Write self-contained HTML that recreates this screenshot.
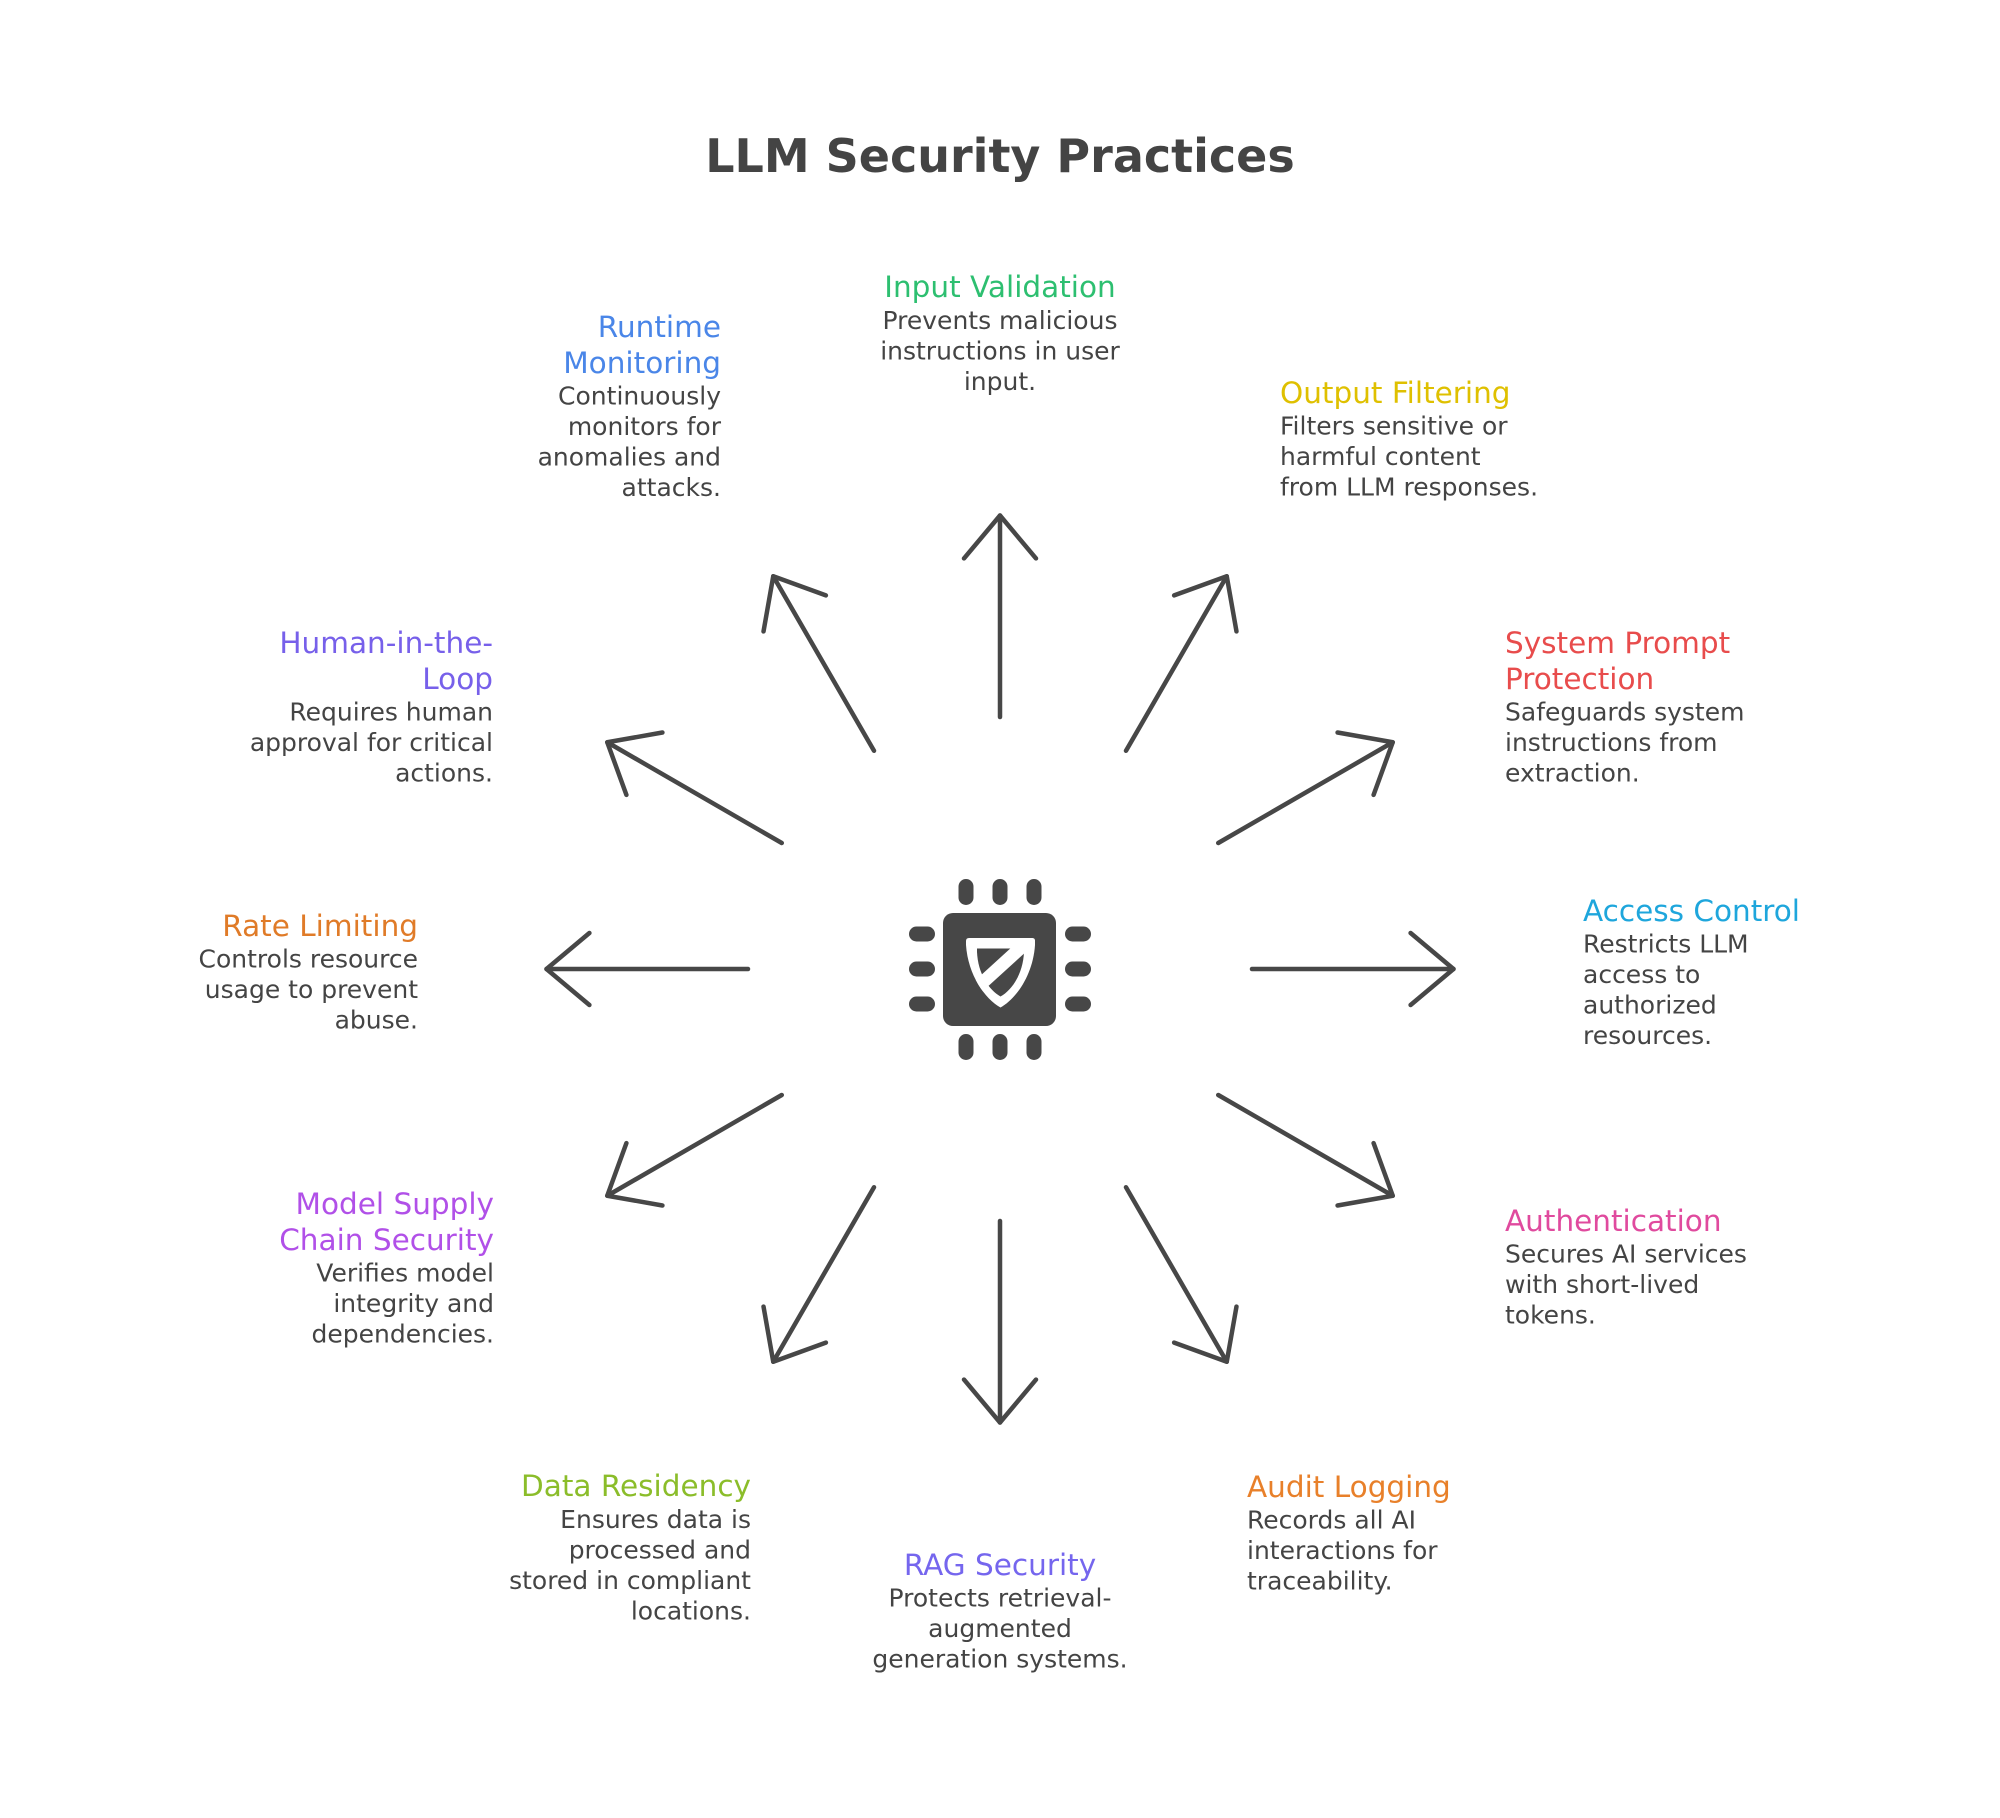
<!DOCTYPE html>
<html>
<head>
<meta charset="utf-8">
<style>
  html, body { margin: 0; padding: 0; background: #ffffff; }
  body { width: 2000px; height: 1818px; overflow: hidden; }
  svg { display: block; }
  .h { font-family: "DejaVu Sans", "Liberation Sans", sans-serif; font-size: 29.5px; }
  .b { font-family: "DejaVu Sans", "Liberation Sans", sans-serif; font-size: 25px; fill: #444444; }
  .t { font-family: "DejaVu Sans", "Liberation Sans", sans-serif; font-size: 46px; font-weight: bold; fill: #444444; }
</style>
</head>
<body>
<svg width="2000" height="1818" viewBox="0 0 2000 1818" xmlns="http://www.w3.org/2000/svg">
  <rect x="0" y="0" width="2000" height="1818" fill="#ffffff"/>

  <!-- Title -->
  <text class="t" x="1000" y="172" text-anchor="middle">LLM Security Practices</text>

  <!-- Arrows -->
  <g stroke="#474747" stroke-width="4.5" stroke-linecap="round" stroke-linejoin="round" fill="none">
    <g transform="rotate(0 1000 969)">
      <line x1="1252" y1="969" x2="1453.5" y2="969"/>
      <polyline points="1410.6,933 1453.5,969 1410.6,1005"/>
    </g>
    <g transform="rotate(30 1000 969)">
      <line x1="1252" y1="969" x2="1453.5" y2="969"/>
      <polyline points="1410.6,933 1453.5,969 1410.6,1005"/>
    </g>
    <g transform="rotate(60 1000 969)">
      <line x1="1252" y1="969" x2="1453.5" y2="969"/>
      <polyline points="1410.6,933 1453.5,969 1410.6,1005"/>
    </g>
    <g transform="rotate(90 1000 969)">
      <line x1="1252" y1="969" x2="1453.5" y2="969"/>
      <polyline points="1410.6,933 1453.5,969 1410.6,1005"/>
    </g>
    <g transform="rotate(120 1000 969)">
      <line x1="1252" y1="969" x2="1453.5" y2="969"/>
      <polyline points="1410.6,933 1453.5,969 1410.6,1005"/>
    </g>
    <g transform="rotate(150 1000 969)">
      <line x1="1252" y1="969" x2="1453.5" y2="969"/>
      <polyline points="1410.6,933 1453.5,969 1410.6,1005"/>
    </g>
    <g transform="rotate(180 1000 969)">
      <line x1="1252" y1="969" x2="1453.5" y2="969"/>
      <polyline points="1410.6,933 1453.5,969 1410.6,1005"/>
    </g>
    <g transform="rotate(210 1000 969)">
      <line x1="1252" y1="969" x2="1453.5" y2="969"/>
      <polyline points="1410.6,933 1453.5,969 1410.6,1005"/>
    </g>
    <g transform="rotate(240 1000 969)">
      <line x1="1252" y1="969" x2="1453.5" y2="969"/>
      <polyline points="1410.6,933 1453.5,969 1410.6,1005"/>
    </g>
    <g transform="rotate(270 1000 969)">
      <line x1="1252" y1="969" x2="1453.5" y2="969"/>
      <polyline points="1410.6,933 1453.5,969 1410.6,1005"/>
    </g>
    <g transform="rotate(300 1000 969)">
      <line x1="1252" y1="969" x2="1453.5" y2="969"/>
      <polyline points="1410.6,933 1453.5,969 1410.6,1005"/>
    </g>
    <g transform="rotate(330 1000 969)">
      <line x1="1252" y1="969" x2="1453.5" y2="969"/>
      <polyline points="1410.6,933 1453.5,969 1410.6,1005"/>
    </g>
  </g>

  <!-- Center chip icon -->
  <g fill="#474747">
    <rect x="943" y="913" width="113" height="113" rx="10"/>
    <rect x="958.5" y="879" width="15" height="26" rx="7.5"/>
    <rect x="992.5" y="879" width="15" height="26" rx="7.5"/>
    <rect x="1026.5" y="879" width="15" height="26" rx="7.5"/>
    <rect x="958.5" y="1034" width="15" height="26" rx="7.5"/>
    <rect x="992.5" y="1034" width="15" height="26" rx="7.5"/>
    <rect x="1026.5" y="1034" width="15" height="26" rx="7.5"/>
    <rect x="909" y="926.5" width="26" height="15" rx="7.5"/>
    <rect x="909" y="961.5" width="26" height="15" rx="7.5"/>
    <rect x="909" y="996.5" width="26" height="15" rx="7.5"/>
    <rect x="1065" y="926.5" width="26" height="15" rx="7.5"/>
    <rect x="1065" y="961.5" width="26" height="15" rx="7.5"/>
    <rect x="1065" y="996.5" width="26" height="15" rx="7.5"/>
  </g>
  <defs>
    <clipPath id="shieldClip">
      <path d="M966,941 Q966,938 969,938 L1032,938 Q1035,938 1035,941 L1035,945 C1033,975 1016,999 1000.5,1007.5 C985,999 968,975 966,945 Z"/>
    </clipPath>
  </defs>
  <path d="M966,941 Q966,938 969,938 L1032,938 Q1035,938 1035,941 L1035,945 C1033,975 1016,999 1000.5,1007.5 C985,999 968,975 966,945 Z" fill="#ffffff"/>
  <path d="M977,948.5 L1024,948.5 L1024,952 C1023,974 1012,990 1000.5,996.5 C989,990 978,974 977,952 Z" fill="#474747"/>
  <line x1="1037" y1="933" x2="970" y2="994" stroke="#ffffff" stroke-width="13" clip-path="url(#shieldClip)"/>

  <!-- Input Validation -->
  <text class="h" x="1000" y="297" text-anchor="middle" fill="#2dbf70">Input Validation</text>
  <text class="b" x="1000" y="329" text-anchor="middle">Prevents malicious</text>
  <text class="b" x="1000" y="359.5" text-anchor="middle">instructions in user</text>
  <text class="b" x="1000" y="390" text-anchor="middle">input.</text>

  <!-- Runtime Monitoring -->
  <text class="h" x="721" y="337" text-anchor="end" fill="#4a86e8">Runtime</text>
  <text class="h" x="721" y="373" text-anchor="end" fill="#4a86e8">Monitoring</text>
  <text class="b" x="721" y="404.5" text-anchor="end">Continuously</text>
  <text class="b" x="721" y="435" text-anchor="end">monitors for</text>
  <text class="b" x="721" y="465.5" text-anchor="end">anomalies and</text>
  <text class="b" x="721" y="496" text-anchor="end">attacks.</text>

  <!-- Output Filtering -->
  <text class="h" x="1280" y="403" fill="#dfc000">Output Filtering</text>
  <text class="b" x="1280" y="434.5">Filters sensitive or</text>
  <text class="b" x="1280" y="465">harmful content</text>
  <text class="b" x="1280" y="495.5">from LLM responses.</text>

  <!-- System Prompt Protection -->
  <text class="h" x="1505" y="653" fill="#e84c4c">System Prompt</text>
  <text class="h" x="1505" y="689" fill="#e84c4c">Protection</text>
  <text class="b" x="1505" y="720.5">Safeguards system</text>
  <text class="b" x="1505" y="751">instructions from</text>
  <text class="b" x="1505" y="781.5">extraction.</text>

  <!-- Access Control -->
  <text class="h" x="1583" y="921" fill="#1ea6dc">Access Control</text>
  <text class="b" x="1583" y="952.5">Restricts LLM</text>
  <text class="b" x="1583" y="983">access to</text>
  <text class="b" x="1583" y="1013.5">authorized</text>
  <text class="b" x="1583" y="1044">resources.</text>

  <!-- Authentication -->
  <text class="h" x="1505" y="1231" fill="#e04a9e">Authentication</text>
  <text class="b" x="1505" y="1262.5">Secures AI services</text>
  <text class="b" x="1505" y="1293">with short-lived</text>
  <text class="b" x="1505" y="1323.5">tokens.</text>

  <!-- Audit Logging -->
  <text class="h" x="1247" y="1497" fill="#e8802a">Audit Logging</text>
  <text class="b" x="1247" y="1528.5">Records all AI</text>
  <text class="b" x="1247" y="1559">interactions for</text>
  <text class="b" x="1247" y="1589.5">traceability.</text>

  <!-- RAG Security -->
  <text class="h" x="1000" y="1575" text-anchor="middle" fill="#7566ee">RAG Security</text>
  <text class="b" x="1000" y="1606.5" text-anchor="middle">Protects retrieval-</text>
  <text class="b" x="1000" y="1637" text-anchor="middle">augmented</text>
  <text class="b" x="1000" y="1667.5" text-anchor="middle">generation systems.</text>

  <!-- Data Residency -->
  <text class="h" x="751" y="1496" text-anchor="end" fill="#8bbd2a">Data Residency</text>
  <text class="b" x="751" y="1528" text-anchor="end">Ensures data is</text>
  <text class="b" x="751" y="1558.5" text-anchor="end">processed and</text>
  <text class="b" x="751" y="1589" text-anchor="end">stored in compliant</text>
  <text class="b" x="751" y="1619.5" text-anchor="end">locations.</text>

  <!-- Model Supply Chain Security -->
  <text class="h" x="494" y="1214" text-anchor="end" fill="#b150e8">Model Supply</text>
  <text class="h" x="494" y="1250" text-anchor="end" fill="#b150e8">Chain Security</text>
  <text class="b" x="494" y="1281.5" text-anchor="end">Verifies model</text>
  <text class="b" x="494" y="1312" text-anchor="end">integrity and</text>
  <text class="b" x="494" y="1342.5" text-anchor="end">dependencies.</text>

  <!-- Rate Limiting -->
  <text class="h" x="418" y="936" text-anchor="end" fill="#e07b28">Rate Limiting</text>
  <text class="b" x="418" y="967.5" text-anchor="end">Controls resource</text>
  <text class="b" x="418" y="998" text-anchor="end">usage to prevent</text>
  <text class="b" x="418" y="1028.5" text-anchor="end">abuse.</text>

  <!-- Human-in-the-Loop -->
  <text class="h" x="493" y="653" text-anchor="end" fill="#7760ea">Human-in-the-</text>
  <text class="h" x="493" y="689" text-anchor="end" fill="#7760ea">Loop</text>
  <text class="b" x="493" y="720.5" text-anchor="end">Requires human</text>
  <text class="b" x="493" y="751" text-anchor="end">approval for critical</text>
  <text class="b" x="493" y="781.5" text-anchor="end">actions.</text>
</svg>
</body>
</html>
